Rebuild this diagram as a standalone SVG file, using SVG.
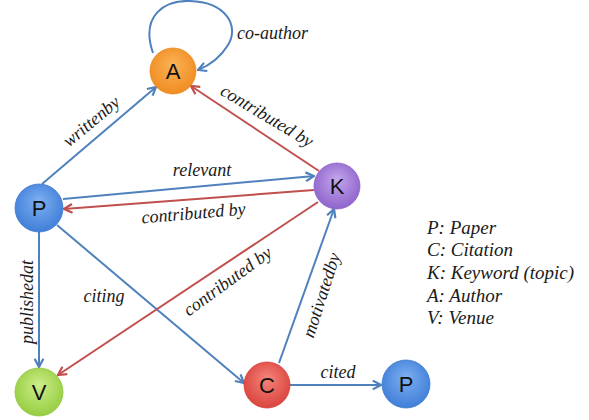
<svg xmlns="http://www.w3.org/2000/svg" width="589" height="420" viewBox="0 0 589 420">
<style>
.lbl{fill:#1a1a1a}
.nl{font-size:22px;fill:#111;text-anchor:middle}
.b{stroke:#4f81bd;stroke-width:2;fill:none;marker-end:url(#ab)}
.r{stroke:#c0504d;stroke-width:2;fill:none;marker-end:url(#ar)}
.nd{stroke-width:0.8}
</style>
<defs>
<marker id="ab" viewBox="0 0 10 10" refX="9" refY="5" markerWidth="11" markerHeight="11" markerUnits="userSpaceOnUse" orient="auto"><path d="M1.5,1 L9,5 L1.5,9" fill="none" stroke="#4f81bd" stroke-width="2"/></marker>
<marker id="ar" viewBox="0 0 10 10" refX="9" refY="5" markerWidth="11" markerHeight="11" markerUnits="userSpaceOnUse" orient="auto"><path d="M1.5,1 L9,5 L1.5,9" fill="none" stroke="#c0504d" stroke-width="2"/></marker>
<radialGradient id="gA" cx="50%" cy="45%" r="60%" fx="50%" fy="35%"><stop offset="0" stop-color="#fbb355"/><stop offset="1" stop-color="#ef8a1f"/></radialGradient>
<radialGradient id="gP" cx="50%" cy="45%" r="60%" fx="50%" fy="35%"><stop offset="0" stop-color="#7eb0f2"/><stop offset="1" stop-color="#3c7bd6"/></radialGradient>
<radialGradient id="gK" cx="50%" cy="45%" r="60%" fx="50%" fy="35%"><stop offset="0" stop-color="#c4a6ee"/><stop offset="1" stop-color="#8b60c8"/></radialGradient>
<radialGradient id="gV" cx="50%" cy="45%" r="60%" fx="50%" fy="35%"><stop offset="0" stop-color="#cdee8a"/><stop offset="1" stop-color="#93cb3d"/></radialGradient>
<radialGradient id="gC" cx="50%" cy="45%" r="60%" fx="50%" fy="35%"><stop offset="0" stop-color="#f5857b"/><stop offset="1" stop-color="#d8403a"/></radialGradient>
</defs>
<rect width="589" height="420" fill="#fff"/>
<g id="connectors">
<path class="b" d="M153,53 C140,15 165,0 190,1 C225,2 240,25 228,45 C220,58 208,66 198,70"/>
<line class="b" x1="42" y1="184" x2="156" y2="87"/>
<line class="r" x1="319" y1="171" x2="191" y2="86"/>
<line class="b" x1="63" y1="199" x2="314" y2="176"/>
<line class="r" x1="314" y1="190" x2="64" y2="209"/>
<line class="b" x1="39" y1="232" x2="39" y2="367"/>
<line class="b" x1="57" y1="225" x2="244" y2="383"/>
<line class="r" x1="318" y1="202" x2="58" y2="375"/>
<line class="b" x1="279" y1="363" x2="334" y2="209"/>
<line class="b" x1="290" y1="385" x2="381" y2="385"/>
<text class="lbl" font-family="'Liberation Serif', serif" font-style="italic" font-size="18" x="237" y="39">co-author</text>
<text class="lbl" font-family="'Liberation Serif', serif" font-style="italic" font-size="18" text-anchor="middle" transform="translate(95,126) rotate(-40)">writtenby</text>
<text class="lbl" font-family="'Liberation Serif', serif" font-style="italic" font-size="18" text-anchor="middle" transform="translate(264,121) rotate(31)">contributed by</text>
<text class="lbl" font-family="'Liberation Serif', serif" font-style="italic" font-size="18" x="202" y="176" text-anchor="middle">relevant</text>
<text class="lbl" font-family="'Liberation Serif', serif" font-style="italic" font-size="18" text-anchor="middle" transform="translate(194,219) rotate(-5)">contributed by</text>
<text class="lbl" font-family="'Liberation Serif', serif" font-style="italic" font-size="18" text-anchor="middle" transform="translate(33,302) rotate(-90)">publishedat</text>
<text class="lbl" font-family="'Liberation Serif', serif" font-style="italic" font-size="18" x="104" y="302" text-anchor="middle">citing</text>
<text class="lbl" font-family="'Liberation Serif', serif" font-style="italic" font-size="18" text-anchor="middle" transform="translate(231,286) rotate(-36)">contributed by</text>
<text class="lbl" font-family="'Liberation Serif', serif" font-style="italic" font-size="18" text-anchor="middle" transform="translate(327,297) rotate(-72)">motivatedby</text>
<text class="lbl" font-family="'Liberation Serif', serif" font-style="italic" font-size="18" x="338" y="378" text-anchor="middle">cited</text>
</g>
<g id="node-A"><circle class="nd" cx="173" cy="71" r="23" fill="url(#gA)" stroke="#e9861c"/><text class="nl" font-family="'Liberation Sans', sans-serif" x="173" y="79">A</text></g>
<g id="node-P"><circle class="nd" cx="39" cy="208" r="24" fill="url(#gP)" stroke="#3a78d0"/><text class="nl" font-family="'Liberation Sans', sans-serif" x="39" y="216">P</text></g>
<g id="node-K"><circle class="nd" cx="337" cy="186" r="23" fill="url(#gK)" stroke="#8a5fc6"/><text class="nl" font-family="'Liberation Sans', sans-serif" x="337" y="194">K</text></g>
<g id="node-V"><circle class="nd" cx="39" cy="392" r="24" fill="url(#gV)" stroke="#8fc63a"/><text class="nl" font-family="'Liberation Sans', sans-serif" x="39" y="400">V</text></g>
<g id="node-C"><circle class="nd" cx="267" cy="385" r="23" fill="url(#gC)" stroke="#d43d37"/><text class="nl" font-family="'Liberation Sans', sans-serif" x="267" y="393">C</text></g>
<g id="node-P2"><circle class="nd" cx="406" cy="384" r="24" fill="url(#gP)" stroke="#3a78d0"/><text class="nl" font-family="'Liberation Sans', sans-serif" x="406" y="392">P</text></g>
<g id="legend">
<text class="lbl" font-family="'Liberation Serif', serif" font-style="italic" font-size="19" x="427" y="234">P: Paper</text>
<text class="lbl" font-family="'Liberation Serif', serif" font-style="italic" font-size="19" x="427" y="256">C: Citation</text>
<text class="lbl" font-family="'Liberation Serif', serif" font-style="italic" font-size="19" x="427" y="279">K: Keyword (topic)</text>
<text class="lbl" font-family="'Liberation Serif', serif" font-style="italic" font-size="19" x="427" y="302">A: Author</text>
<text class="lbl" font-family="'Liberation Serif', serif" font-style="italic" font-size="19" x="427" y="324">V: Venue</text>
</g>
</svg>
